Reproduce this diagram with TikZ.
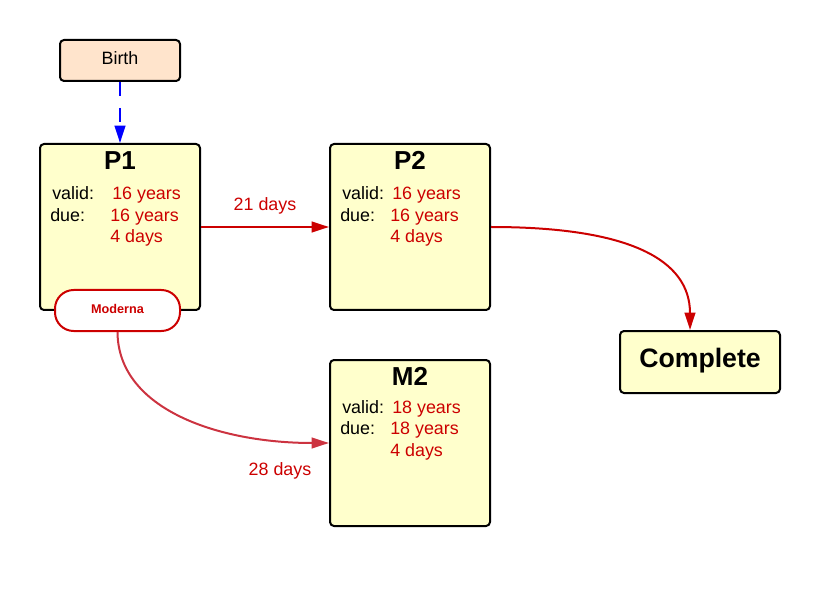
\documentclass[tikz,border=0pt]{standalone}
\usepackage{fontspec}
\setmainfont{Liberation Sans}
\usetikzlibrary{arrows.meta}
\definecolor{boxyellow}{HTML}{FFFFCC}
\definecolor{peach}{HTML}{FFE4CC}
\definecolor{darkred}{HTML}{CC0000}
\definecolor{crimson}{HTML}{CC3340}
\definecolor{arrowblue}{HTML}{0000FF}
\begin{document}
\begin{tikzpicture}[x=0.75pt,y=-0.75pt,
  doseblock/.style={draw=black,line width=1.5pt,fill=boxyellow,rounded corners=3pt,minimum width=120pt,minimum height=124.5pt,inner sep=0pt},
  birthbox/.style={draw=black,line width=1.5pt,fill=peach,rounded corners=3pt,minimum width=90pt,minimum height=30.75pt,inner sep=0pt},
  completebox/.style={draw=black,line width=1.5pt,fill=boxyellow,rounded corners=3pt,minimum width=120pt,minimum height=46.5pt,inner sep=0pt},
  pillbox/.style={draw=darkred,line width=1.5pt,fill=white,rounded corners=14pt,minimum width=93.75pt,minimum height=30.75pt,inner sep=0pt},
  title/.style={anchor=base,inner sep=0pt,font=\fontsize{19.5}{21}\selectfont\bfseries},
  lbl/.style={anchor=base west,inner sep=0pt,font=\fontsize{13.4}{15}\selectfont},
  val/.style={lbl,text=darkred},
  redline/.style={draw=darkred,line width=1.5pt,-{Triangle[length=13pt,width=8pt]}},
]
\useasboundingbox (0,0) rectangle (820,591);

\node[birthbox] (birth) at (120,60.5) {};
\node[anchor=base,inner sep=0pt,font=\fontsize{13.4}{15}\selectfont] (birthtxt) at (120,65) {Birth};

\node[doseblock] (p1) at (120,227) {};
\node[title] (p1t) at (120,170) {P1};
\node[lbl] (p1vl) at (52,200) {valid:};
\node[val] (p1vv) at (112,200) {16 years};
\node[lbl] (p1dl) at (50,221.5) {due:};
\node[val] (p1dv) at (110,221.5) {16 years};
\node[val] (p1dd) at (110,243) {4 days};

\node[doseblock] (p2) at (410,227) {};
\node[title] (p2t) at (410,170) {P2};
\node[lbl] (p2vl) at (342,200) {valid:};
\node[val] (p2vv) at (392,200) {16 years};
\node[lbl] (p2dl) at (340,221.5) {due:};
\node[val] (p2dv) at (390,221.5) {16 years};
\node[val] (p2dd) at (390,243) {4 days};

\node[doseblock] (m2) at (410,443) {};
\node[title] (m2t) at (410,385) {M2};
\node[lbl] (m2vl) at (342,413) {valid:};
\node[val] (m2vv) at (392,413) {18 years};
\node[lbl] (m2dl) at (340,434.5) {due:};
\node[val] (m2dv) at (390,434.5) {18 years};
\node[val] (m2dd) at (390,456) {4 days};

\node[completebox] (done) at (700,362) {};
\node[anchor=base,inner sep=0pt,font=\fontsize{20}{22}\selectfont\bfseries] (donetxt) at (700,367.5) {Complete};

\node[pillbox] (mod) at (117.5,310.5) {};
\node[anchor=base,inner sep=0pt,text=darkred,font=\fontsize{9.5}{11}\selectfont\bfseries] (modtxt) at (117.5,314) {Moderna};

\draw[draw=arrowblue,line width=1.5pt,dash pattern=on 10.5pt off 9pt,-{Triangle[length=13pt,width=8pt]}] (birth.south) -- (p1.north);

\draw[redline] (p1.east) -- (p2.west);
\node[val,anchor=base] (d21) at (265,211) {21 days};

\draw[redline] (p2.east) .. controls (630,227) and (690,260) .. ([xshift=-7.5pt]done.north);

\draw[draw=crimson,line width=1.5pt,-{Triangle[length=13pt,width=8pt]}] (mod.south) .. controls (118,410) and (220,443) .. (m2.west);
\node[val,anchor=base] (d28) at (280,475) {28 days};
\end{tikzpicture}
\end{document}
